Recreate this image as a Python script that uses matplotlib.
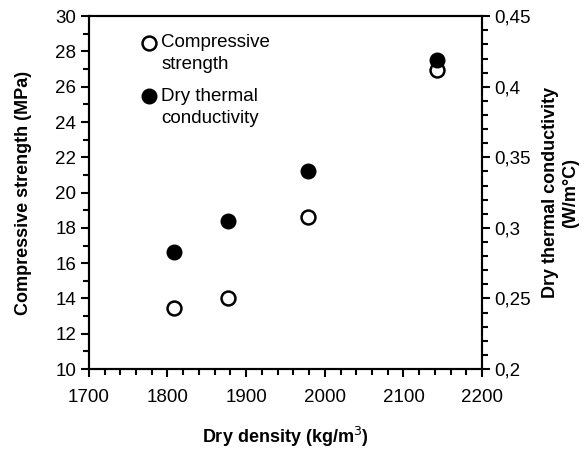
import numpy as np
import matplotlib
matplotlib.use('Agg')
import matplotlib.pyplot as plt
from matplotlib.ticker import MultipleLocator, FuncFormatter

plt.rcParams['font.family'] = ['Liberation Sans', 'DejaVu Sans']

density = [1808, 1877, 1978, 2143]
strength = [13.45, 14.05, 18.6, 26.95]
conductivity = [0.283, 0.305, 0.340, 0.419]

fig = plt.figure(figsize=(5.88, 4.49), dpi=100)
ax = fig.add_axes([0.151, 0.178, 0.669, 0.786])
ax2 = ax.twinx()

open_style = dict(marker='o', ms=10, mfc='white', mec='black', mew=1.8, ls='none')
fill_style = dict(marker='o', ms=10, mfc='black', mec='black', mew=1.5, ls='none')

ax.plot(density, strength, **open_style)
ax2.plot(density, conductivity, **fill_style)

ax.set_xlim(1700, 2200)
ax.set_ylim(10, 30)
ax2.set_ylim(0.2, 0.45)

ax.xaxis.set_major_locator(MultipleLocator(100))
ax.xaxis.set_minor_locator(MultipleLocator(20))
ax.yaxis.set_major_locator(MultipleLocator(2))
ax.yaxis.set_minor_locator(MultipleLocator(1))
ax2.yaxis.set_major_locator(MultipleLocator(0.05))
ax2.yaxis.set_minor_locator(MultipleLocator(0.01))
ax2.yaxis.set_major_formatter(FuncFormatter(lambda v, p: ('%g' % round(v, 3)).replace('.', ',')))

for a in (ax, ax2):
    a.tick_params(which='major', length=6, width=1.5, labelsize=13.5, direction='out')
    a.tick_params(which='minor', length=4, width=1.5, direction='out')
    for s in a.spines.values():
        s.set_linewidth(1.5)
ax.tick_params(axis='x', pad=8)
ax.tick_params(axis='y', pad=3)
ax2.tick_params(axis='y', pad=3)

ax.set_xlabel('Dry density (kg/m$^3$)', fontsize=13, fontweight='bold')
ax.set_ylabel('Compressive strength (MPa)', fontsize=13, fontweight='bold')
ax2.set_ylabel('Dry thermal conductivity\n(W/m°C)', fontsize=13, fontweight='bold')
ax.xaxis.set_label_coords(0.5, -0.158)
ax.yaxis.set_label_coords(-0.145, 0.5)
ax2.yaxis.set_label_coords(1.153, 0.5)

# hand-placed legend, marker beside the first line of each label
legend_items = [(open_style, ['Compressive', 'strength'], 0.924),
                (fill_style, ['Dry thermal', 'conductivity'], 0.773)]
for style, lines, y in legend_items:
    ax.plot([0.153], [y], transform=ax.transAxes, clip_on=False, **style)
    for i, line in enumerate(lines):
        ax.text(0.184, y - i * 0.062, line, transform=ax.transAxes,
                fontsize=13.5, va='center', ha='left')

fig.savefig('out.png', dpi=100)
